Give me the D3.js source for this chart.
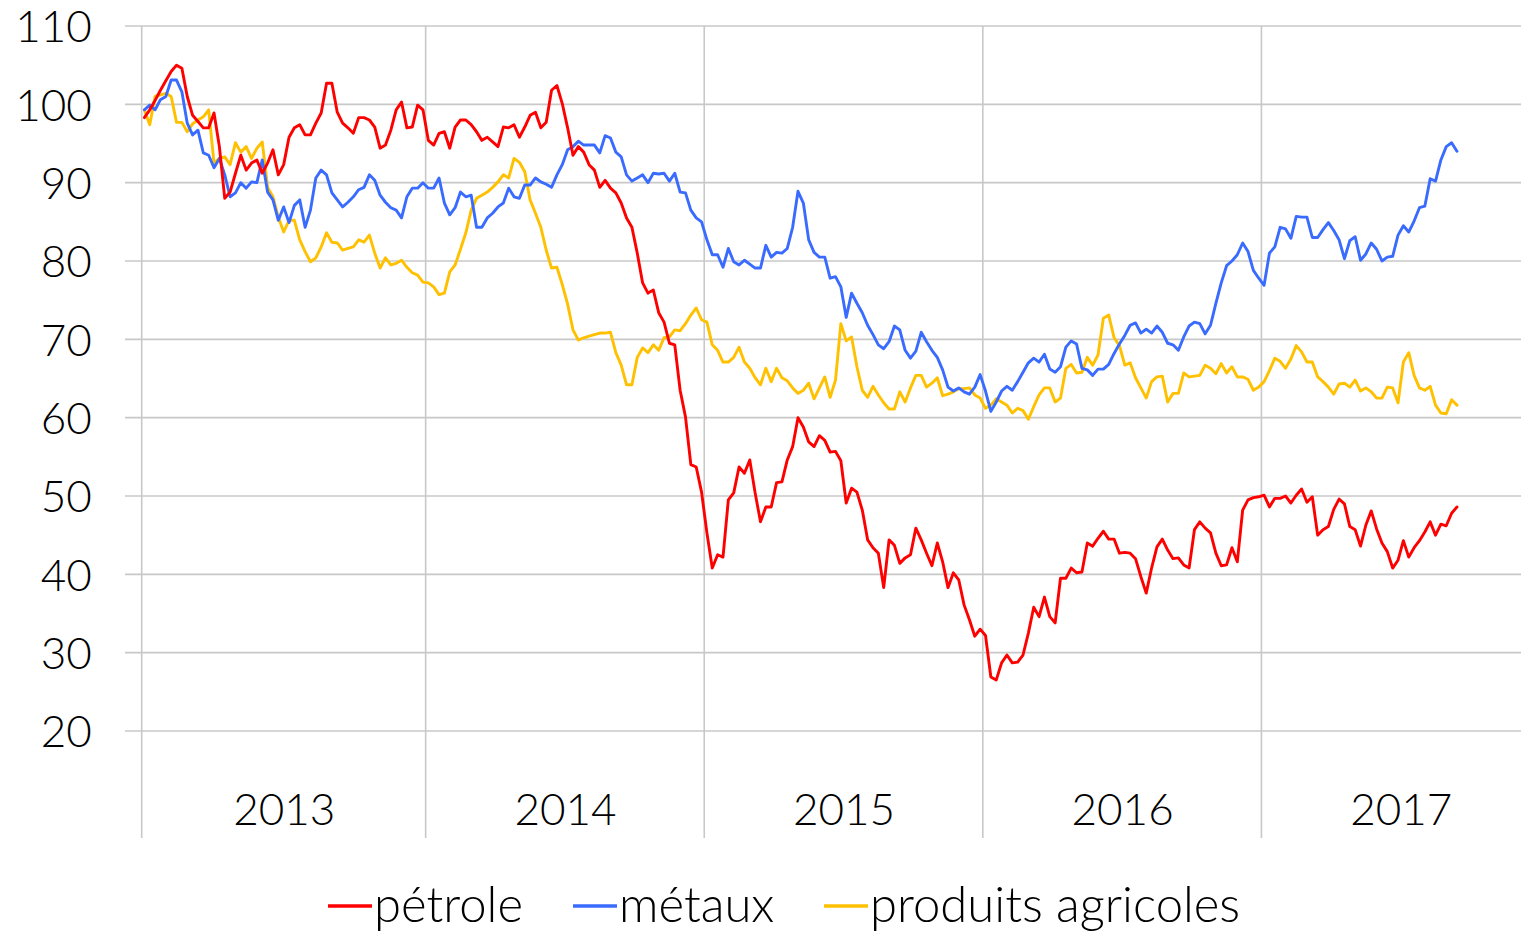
<!DOCTYPE html>
<html>
<head>
<meta charset="utf-8">
<script src="https://cdn.jsdelivr.net/npm/d3@7"></script>
<style>
  html, body { margin: 0; padding: 0; background: #fff; }
  svg { display: block; }
  text { font-family: "Lato", "Open Sans", sans-serif; font-weight: 300; fill: #000; }
</style>
</head>
<body>
<svg id="chart" width="1521" height="932"></svg>
<script>
// ---- data ----
const years = ["2013", "2014", "2015", "2016", "2017"];
const weeksPerYear = [53, 52, 52, 52, 52];
const yTicks = [20, 30, 40, 50, 60, 70, 80, 90, 100, 110];
const seriesNames = ["pétrole", "métaux", "produits agricoles"];

const petrole = [
  98.3, 99.3, 100.5, 101.8, 103, 104.2, 105, 104.6, 101, 98.6,
  97.8, 97, 97, 98.9, 94.6, 88, 88.8, 91.2, 93.5, 91.6,
  92.5, 92.9, 91.2, 92.5, 94.2, 91, 92.3, 95.8, 97, 97.4,
  96.1, 96.1, 97.6, 98.9, 102.7, 102.7, 99, 97.6, 97, 96.3,
  98.3, 98.3, 98, 97.1, 94.4, 94.8, 96.7, 99.3, 100.3, 97,
  97.1, 99.9, 99.3, 95.4, 94.8, 96.3, 96.5, 94.4, 97.1, 98,
  98, 97.4, 96.5, 95.4, 95.8, 95.2, 94.6, 97.1, 97, 97.4,
  95.8, 97.1, 98.6, 99, 97, 97.7, 101.8, 102.4, 100.1, 97,
  93.5, 94.6, 93.9, 92.3, 91.6, 89.4, 90.3, 89.3, 88.7, 87.4,
  85.5, 84.3, 81, 77.2, 75.9, 76.3, 73.4, 72.2, 69.5, 69.3,
  63.5, 60.1, 54, 53.7, 50.5, 45.3, 40.8, 42.5, 42.2, 49.5,
  50.4, 53.7, 52.9, 54.6, 50.4, 46.7, 48.6, 48.6, 51.7, 51.8,
  54.6, 56.3, 60, 58.8, 56.9, 56.3, 57.7, 57.1, 55.6, 55.7,
  54.5, 49.1, 51, 50.5, 48.2, 44.4, 43.4, 42.7, 38.3, 44.4,
  43.7, 41.4, 42.1, 42.5, 45.9, 44.4, 42.7, 41.1, 44, 41.6,
  38.3, 40.2, 39.3, 36.1, 34.2, 32.1, 33, 32.2, 26.9, 26.5,
  28.7, 29.7, 28.7, 28.8, 29.7, 32.5, 35.8, 34.6, 37.1, 34.6,
  33.8, 39.5, 39.5, 40.8, 40.2, 40.3, 44, 43.6, 44.6, 45.5,
  44.5, 44.5, 42.7, 42.8, 42.7, 42, 39.7, 37.6, 40.8, 43.5,
  44.5, 43.1, 42, 42.1, 41.2, 40.8, 45.7, 46.7, 45.9, 45.3,
  42.7, 41.1, 41.2, 43.4, 41.6, 48.2, 49.5, 49.8, 49.9, 50.1,
  48.6, 49.7, 49.7, 50, 49.1, 50.1, 50.9, 49.2, 49.9, 45,
  45.7, 46.1, 48.3, 49.6, 49, 46.1, 45.7, 43.6, 46.3, 48.1,
  45.8, 44, 42.9, 40.8, 41.8, 44.3, 42.2, 43.4, 44.3, 45.4,
  46.7, 45, 46.4, 46.2, 47.8, 48.6
];

const metaux = [
  99.3, 99.9, 99.3, 100.6, 101, 103.1, 103.1, 101.6, 97.6, 96.1,
  96.7, 93.8, 93.5, 91.9, 93.1, 91, 88.2, 88.7, 90, 89.3,
  90.1, 90, 92.9, 88.8, 87.8, 85.2, 86.9, 84.9, 87.1, 87.8,
  84.3, 86.5, 90.6, 91.6, 91, 88.7, 87.8, 86.9, 87.5, 88.2,
  89.1, 89.4, 91, 90.3, 88.4, 87.5, 86.8, 86.5, 85.5, 88.2,
  89.3, 89.3, 90, 89.3, 89.3, 90.6, 87.4, 85.9, 86.8, 88.8,
  88.2, 88.4, 84.3, 84.3, 85.5, 86.1, 86.9, 87.4, 89.3, 88.2,
  88, 89.7, 89.7, 90.6, 90.1, 89.8, 89.4, 91, 92.3, 94.2,
  94.6, 95.3, 94.8, 94.8, 94.8, 93.8, 96, 95.7, 93.9, 93.3,
  91, 90.2, 90.6, 91, 90, 91.2, 91.1, 91.2, 90.2, 91.2,
  88.8, 88.7, 86.5, 85.5, 85, 82.7, 80.8, 80.8, 79.2, 81.6,
  79.9, 79.5, 80.1, 79.6, 79.1, 79.1, 82, 80.5, 81.1, 81,
  81.6, 84.3, 88.9, 87.4, 82.7, 81.1, 80.5, 80.5, 77.8, 78,
  76.7, 72.8, 75.9, 74.6, 73.4, 71.8, 70.6, 69.3, 68.8, 69.7,
  71.7, 71.2, 68.6, 67.6, 68.5, 70.9, 69.7, 68.6, 67.7, 66.1,
  63.9, 63.4, 63.8, 63.3, 63, 63.9, 65.5, 63.4, 60.8, 62,
  63.4, 64, 63.5, 64.6, 65.8, 67, 67.6, 67.1, 68.1, 66.2,
  65.8, 66.5, 69, 69.8, 69.4, 66.3, 66.1, 65.4, 66.2, 66.2,
  66.8, 68.2, 69.4, 70.5, 71.8, 72.1, 70.8, 71.3, 70.8, 71.7,
  70.9, 69.5, 69.3, 68.6, 70.3, 71.7, 72.2, 72, 70.7, 71.8,
  74.6, 77.2, 79.4, 80, 80.8, 82.3, 81.2, 78.8, 77.8, 76.9,
  81, 81.8, 84.3, 84.1, 82.9, 85.7, 85.6, 85.6, 83, 83,
  84, 84.9, 83.9, 82.7, 80.3, 82.6, 83.1, 80.1, 80.9, 82.3,
  81.5, 80, 80.5, 80.6, 83.3, 84.5, 83.7, 85.1, 86.8, 87,
  90.5, 90.2, 92.9, 94.6, 95.1, 94
];

const agricoles = [
  99.3, 97.4, 101, 101.2, 101.4, 101, 97.7, 97.7, 96.5, 97.5,
  98, 98.4, 99.3, 92.5, 93.1, 93.3, 92.3, 95.1, 93.9, 94.6,
  93.1, 94.4, 95.2, 89.4, 88.2, 85.6, 83.7, 85.2, 85.2, 82.7,
  81.2, 79.9, 80.4, 81.8, 83.6, 82.4, 82.3, 81.4, 81.6, 81.8,
  82.7, 82.4, 83.3, 81, 79.1, 80.4, 79.5, 79.7, 80.1, 79.2,
  78.5, 78.2, 77.3, 77.2, 76.7, 75.7, 75.9, 78.6, 79.5, 81.5,
  83.6, 86.5, 88, 88.4, 88.8, 89.4, 90.1, 91, 90.6, 93.1,
  92.6, 91.4, 87.8, 86.1, 84.3, 81.4, 79.1, 79.2, 77, 74.5,
  71.2, 69.9, 70.2, 70.4, 70.6, 70.8, 70.8, 70.9, 68.3, 66.7,
  64.2, 64.2, 67.7, 68.9, 68.3, 69.3, 68.6, 70.2, 70.3, 71.2,
  71.1, 72, 73.1, 74, 72.5, 72.2, 69.3, 68.6, 67.1, 67.1,
  67.7, 69, 67.1, 66.3, 65.1, 64.2, 66.3, 64.6, 66.3, 65.1,
  64.7, 63.8, 63.1, 63.5, 64.4, 62.4, 63.8, 65.2, 62.6, 64.8,
  72, 69.8, 70.3, 66.5, 63.5, 62.6, 64, 62.9, 61.9, 61.1,
  61.1, 63.3, 62, 63.8, 65.4, 65.4, 63.9, 64.4, 65.1, 62.8,
  63, 63.3, 63.7, 63.7, 63.8, 62.9, 62.5, 61.2, 61.6, 62.4,
  62, 61.6, 60.6, 61.2, 60.9, 59.8, 61.4, 62.9, 63.8, 63.8,
  62, 62.5, 66.3, 66.8, 65.7, 65.8, 67.7, 66.7, 68, 72.7,
  73.1, 70.2, 69.2, 66.7, 67, 65.1, 63.8, 62.5, 64.6, 65.2,
  65.3, 62, 63.1, 63.1, 65.7, 65.2, 65.3, 65.4, 66.7, 66.3,
  65.6, 66.9, 65.7, 66.5, 65.2, 65.2, 64.9, 63.5, 63.9, 64.6,
  66, 67.6, 67.2, 66.3, 67.5, 69.2, 68.4, 67.1, 67.1, 65.2,
  64.6, 63.9, 63, 64.3, 64.4, 63.9, 64.8, 63.4, 63.8, 63.3,
  62.5, 62.5, 63.9, 63.8, 61.9, 67.1, 68.3, 65.4, 63.8, 63.5,
  64, 61.6, 60.6, 60.5, 62.3, 61.6
];

(function draw() {
  const svg = d3.select("#chart");
  const W = 1521, H = 932;
  svg.append("rect").attr("width", W).attr("height", H).attr("fill", "#fff");

  const plotLeft = 141.7, plotRight = 1540, plotTop = 26, plotBottom = 731;
  const totalWeeks = d3.sum(weeksPerYear);
  const x = d3.scaleLinear().domain([0, totalWeeks]).range([plotLeft, plotRight]);
  const y = d3.scaleLinear().domain([20, 110]).range([plotBottom, plotTop]);

  const gridColor = "#c8c8c8";
  const fontFam = '"Lato", "Open Sans", sans-serif';

  // horizontal gridlines
  svg.append("g").selectAll("line").data(yTicks).join("line")
    .attr("x1", 125).attr("x2", W)
    .attr("y1", d => y(d)).attr("y2", d => y(d))
    .attr("stroke", gridColor).attr("stroke-width", 1.6);

  // year boundaries
  const bounds = [0];
  weeksPerYear.forEach((n, i) => bounds.push(bounds[i] + n));
  svg.append("g").selectAll("line").data(bounds.slice(0, -1)).join("line")
    .attr("x1", d => x(d)).attr("x2", d => x(d))
    .attr("y1", plotTop).attr("y2", 838)
    .attr("stroke", gridColor).attr("stroke-width", 1.6);

  // y axis labels
  const yAxis = d3.axisLeft(y).tickValues(yTicks).tickSize(0).tickPadding(50);
  const gy = svg.append("g").attr("transform", `translate(${plotLeft},0)`).call(yAxis);
  gy.select(".domain").remove();
  gy.selectAll("text")
    .style("font-family", fontFam).style("font-weight", 300)
    .style("font-size", "44px").attr("fill", "#000").attr("dy", "0.36em");

  // x axis year labels
  const mids = years.map((yr, i) => bounds[i] + weeksPerYear[i] / 2);
  const xAxis = d3.axisBottom(x).tickValues(mids).tickSize(0).tickPadding(0)
    .tickFormat((d, i) => years[i]);
  const gx = svg.append("g").attr("transform", `translate(0,${plotBottom})`).call(xAxis);
  gx.select(".domain").remove();
  gx.selectAll("text")
    .style("font-family", fontFam).style("font-weight", 300)
    .style("font-size", "44px").attr("fill", "#000").attr("dy", null).attr("y", 94);

  // lines
  const colors = ["#ff0000", "#3a6bff", "#ffc000"];
  const seriesData = [petrole, metaux, agricoles];
  const line = d3.line().x((d, i) => x(i + 0.5)).y(d => y(d));

  [2, 1, 0].forEach(k => {
    svg.append("path")
      .datum(seriesData[k])
      .attr("d", line)
      .attr("fill", "none")
      .attr("stroke", colors[k])
      .attr("stroke-width", 2.9)
      .attr("stroke-linejoin", "round")
      .attr("stroke-linecap", "round");
  });

  // legend
  const legendX = [328, 573, 824];
  const lg = svg.append("g");
  seriesNames.forEach((name, i) => {
    lg.append("line")
      .attr("x1", legendX[i]).attr("x2", legendX[i] + 44)
      .attr("y1", 906).attr("y2", 906)
      .attr("stroke", colors[i]).attr("stroke-width", 3.5);
    lg.append("text")
      .attr("x", legendX[i] + 46).attr("y", 922)
      .style("font-family", fontFam).style("font-weight", 300)
      .style("font-size", "49px")
      .text(name);
  });
})();
</script>
</body>
</html>
